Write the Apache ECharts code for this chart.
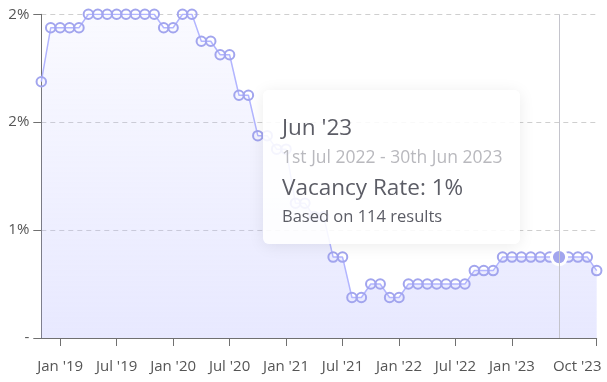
<!DOCTYPE html>
<html>
<head>
<meta charset="utf-8">
<script src="https://cdn.jsdelivr.net/npm/echarts@6/dist/echarts.min.js"></script>
<style>
  html, body { margin: 0; padding: 0; background: #fff; }
  #chart { width: 607px; height: 382px; position: relative; }
</style>
</head>
<body>
<div id="chart"></div>
<script>
// ---- Data ----
const months = ["Nov '18","Dec '18","Jan '19","Feb '19","Mar '19","Apr '19","May '19","Jun '19","Jul '19","Aug '19","Sep '19","Oct '19","Nov '19","Dec '19",
  "Jan '20","Feb '20","Mar '20","Apr '20","May '20","Jun '20","Jul '20","Aug '20","Sep '20","Oct '20","Nov '20","Dec '20",
  "Jan '21","Feb '21","Mar '21","Apr '21","May '21","Jun '21","Jul '21","Aug '21","Sep '21","Oct '21","Nov '21","Dec '21",
  "Jan '22","Feb '22","Mar '22","Apr '22","May '22","Jun '22","Jul '22","Aug '22","Sep '22","Oct '22","Nov '22","Dec '22",
  "Jan '23","Feb '23","Mar '23","Apr '23","May '23","Jun '23","Jul '23","Aug '23","Sep '23","Oct '23"];

const vacancyRate = [1.9, 2.3, 2.3, 2.3, 2.3, 2.4, 2.4, 2.4, 2.4, 2.4, 2.4, 2.4, 2.4, 2.3, 2.3,
  2.4, 2.4, 2.2, 2.2, 2.1, 2.1, 1.8, 1.8, 1.5, 1.5, 1.4, 1.4, 1.0, 1.0, 0.9, 0.9,
  0.6, 0.6, 0.3, 0.3, 0.4, 0.4, 0.3, 0.3, 0.4, 0.4, 0.4, 0.4, 0.4, 0.4, 0.4,
  0.5, 0.5, 0.5, 0.6, 0.6, 0.6, 0.6, 0.6, 0.6, 0.6, 0.6, 0.6, 0.6, 0.5];

const shownLabels = ["Jan '19","Jul '19","Jan '20","Jul '20","Jan '21","Jul '21","Jan '22","Jul '22","Jan '23","Oct '23"];

const yTicks = [0, 0.8, 1.6, 2.4];

const tooltipMonth = "Jun '23";
const tooltipPeriod = "1st Jul 2022 - 30th Jun 2023";
const tooltipResults = 114;

// ---- Chart ----
const FONT = "'Open Sans', 'Noto Sans', sans-serif";
const chart = echarts.init(document.getElementById('chart'), null, { renderer: 'canvas' });
const lastIdx = months.length - 1;
const tipIdx = months.indexOf(tooltipMonth);

const option = {
  animation: false,
  grid: { left: 41.3, right: 10.3, top: 14.3, bottom: 44, containLabel: false },
  xAxis: {
    type: 'category',
    data: months,
    boundaryGap: false,
    axisLine: { show: true, lineStyle: { color: '#707070', width: 1 } },
    axisTick: {
      show: true, length: 8, lineStyle: { color: '#707070' },
      interval: (i, v) => shownLabels.includes(v)
    },
    axisLabel: {
      interval: (i, v) => shownLabels.includes(v),
      margin: 21,
      fontFamily: FONT, fontSize: 15, color: '#555',
      formatter: (v, i) => (i === lastIdx ? '{e|' + v + '}' : v),
      rich: { e: { fontFamily: FONT, fontSize: 15, color: '#555', padding: [0, 39, 0, 0] } }
    },
    splitLine: { show: false }
  },
  yAxis: {
    type: 'value',
    min: yTicks[0], max: yTicks[yTicks.length - 1], interval: yTicks[1] - yTicks[0],
    axisLine: { show: true, lineStyle: { color: '#707070', width: 1 } },
    axisTick: { show: true, length: 8, lineStyle: { color: '#707070' } },
    axisLabel: {
      margin: 12, fontFamily: FONT, fontSize: 15, color: '#555',
      formatter: v => (v === 0 ? '-' : Math.round(v) + '%')
    },
    splitLine: { show: true, lineStyle: { color: '#cfcfcf', type: [5, 4], width: 1 } }
  },
  tooltip: {
    trigger: 'axis',
    triggerOn: 'none',
    alwaysShowContent: true,
    showDelay: 0,
    transitionDuration: 0,
    position: [263, 90],
    backgroundColor: 'rgba(255,255,255,0.88)',
    borderWidth: 0,
    borderRadius: 6,
    padding: [22, 19, 0, 19],
    extraCssText: 'box-shadow: 0 2px 16px rgba(0,0,0,0.08); width:257px; height:154px; box-sizing:border-box;',
    axisPointer: { type: 'line', lineStyle: { color: '#c4c4cc', width: 1, type: 'solid' }, label: { show: false } },
    formatter: (params) => {
      const p = params[0];
      return '<div style="font-family:' + FONT.replace(/'/g, '&quot;') + ';">' +
        '<div style="font-size:22.5px;line-height:30px;color:#5c5d66;">' + p.name + '</div>' +
        '<div style="font-size:17.5px;line-height:22px;margin-top:2.5px;color:#b9b9be;">' + tooltipPeriod + '</div>' +
        '<div style="font-size:22.5px;line-height:30px;margin-top:5.75px;color:#5c5d66;">Vacancy Rate: ' + Math.round(p.value) + '%</div>' +
        '<div style="font-size:16.5px;line-height:22px;margin-top:2.6px;color:#5c5d66;">Based on ' + tooltipResults + ' results</div>' +
        '</div>';
    }
  },
  series: [{
    type: 'line',
    name: 'Vacancy Rate',
    data: vacancyRate,
    symbol: 'circle',
    symbolSize: 9.5,
    showSymbol: true,
    showAllSymbol: true,
    itemStyle: { color: 'rgba(255,255,255,0)', borderColor: '#a2a5ee', borderWidth: 2 },
    lineStyle: { color: '#a2a5ee', width: 1.5 },
    areaStyle: {
      color: new echarts.graphic.LinearGradient(0, 0, 0, 1, [
        { offset: 0, color: 'rgba(165,168,239,0.1)' },
        { offset: 1, color: 'rgba(165,168,239,0.45)' }
      ])
    },
    emphasis: {
      focus: 'none',
      scale: 1.6,
      itemStyle: { color: '#a2a5ee', borderColor: '#ffffff', borderWidth: 3 },
      lineStyle: { width: 1.5 },
      areaStyle: {}
    }
  }]
};
chart.setOption(option);
chart.dispatchAction({ type: 'showTip', seriesIndex: 0, dataIndex: tipIdx });
</script>
</body>
</html>
